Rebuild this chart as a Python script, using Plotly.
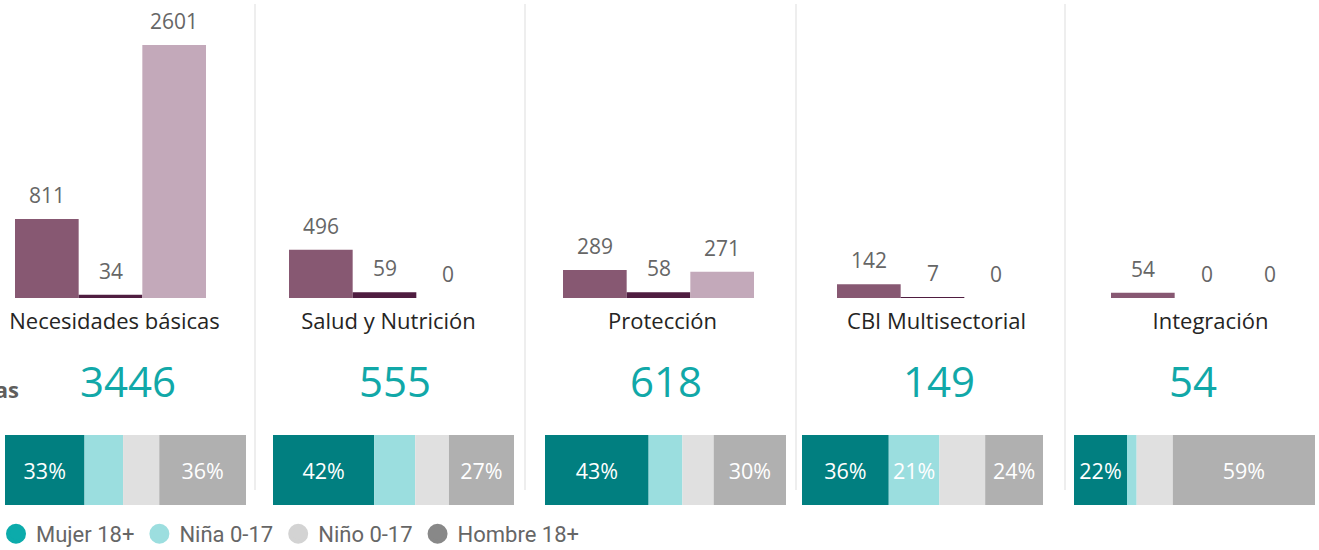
import plotly.graph_objects as go

# ---------------- data ----------------
categorias = ["Necesidades básicas", "Salud y Nutrición", "Protección", "CBI Multisectorial", "Integración"]
serie_a = [811, 496, 289, 142, 54]
serie_b = [34, 59, 58, 7, 0]
serie_c = [2601, 0, 271, 0, 0]

grupos = ["Mujer 18+", "Niña 0-17", "Niño 0-17", "Hombre 18+"]
pct_mujer = [33, 42, 43, 36, 22]
pct_nina = [16, 17, 14, 21, 4]
pct_nino = [15, 14, 13, 19, 15]
pct_hombre = [36, 27, 30, 24, 59]

# ---------------- styles ----------------
W, H = 1319, 550
FONT = "Open Sans, Noto Sans, sans-serif"
bar_colors = ["#875872", "#4f1d40", "#c3a9ba"]
seg_colors = ["#017f80", "#9bdedf", "#e0e0e0", "#b0b0b0"]
leg_colors = ["#0cabab", "#9cdedf", "#d3d3d3", "#888888"]
TEAL = "#11a8a8"
bargap = 1 - 191 / 274

def px_x(p):
    return p / W

def px_y(p):
    return 1 - p / H

fig = go.Figure()

# grouped vertical bars
series = [serie_a, serie_b, serie_c]
for j, vals in enumerate(series):
    fig.add_trace(go.Bar(
        x=categorias, y=vals, name=f"Serie {j+1}",
        marker=dict(color=bar_colors[j], line=dict(width=0)),
        showlegend=False, hoverinfo="x+y",
    ))

annotations = []
wbar = (1 - bargap) / 3
for j, vals in enumerate(series):
    for i, v in enumerate(vals):
        annotations.append(dict(
            x=i + (j - 1) * wbar, y=v, xref="x", yref="y",
            text=str(v), showarrow=False, yanchor="middle", yshift=24,
            font=dict(family=FONT, size=21, color="#666666"),
        ))

# 100% stacked horizontal bars (one small subplot per category)
pcts = [pct_mujer, pct_nina, pct_nino, pct_hombre]
panel_x = [(5, 246), (273, 514), (545, 786), (802, 1043), (1074, 1315)]
for i in range(len(categorias)):
    k = i + 2
    base = 0
    for g in range(len(grupos)):
        v = pcts[g][i]
        fig.add_trace(go.Bar(
            x=[v], y=[0], base=[base], orientation="h", width=1, offset=-0.5,
            xaxis=f"x{k}", yaxis=f"y{k}", name=grupos[g],
            marker=dict(color=seg_colors[g], line=dict(width=0)),
            text=[f"{v}%" if v >= 20 else ""], textposition="inside",
            insidetextanchor="middle", constraintext="none",
            textfont=dict(family=FONT, size=21.5, color="white"),
            showlegend=False, hovertemplate=f"{grupos[g]}: {v}%<extra></extra>",
        ))
        base += v
    fig.layout[f"xaxis{k}"] = dict(domain=[px_x(panel_x[i][0]), px_x(panel_x[i][1])],
                                   range=[0, 100], visible=False, anchor=f"y{k}", fixedrange=True)
    fig.layout[f"yaxis{k}"] = dict(domain=[px_y(505), px_y(435)], range=[-0.5, 0.5],
                                   visible=False, anchor=f"x{k}", fixedrange=True)

# legend entries
for g in range(len(grupos)):
    fig.add_trace(go.Scatter(
        x=[None], y=[None], mode="markers", name=grupos[g],
        marker=dict(size=16, color=leg_colors[g], line=dict(width=4, color=leg_colors[g])),
        showlegend=True,
    ))

# totals
totales = [a + b + c for a, b, c in zip(serie_a, serie_b, serie_c)]
total_x = [127.5, 395, 665.5, 939, 1192.5]
for i, t in enumerate(totales):
    annotations.append(dict(
        x=px_x(total_x[i]), y=px_y(380), xref="paper", yref="paper",
        text=str(t), showarrow=False, xanchor="center", yanchor="middle",
        font=dict(family=FONT, size=42, color=TEAL),
    ))

# cropped side label
annotations.append(dict(
    x=px_x(21), y=px_y(389), xref="paper", yref="paper", text="<b>Personas</b>",
    showarrow=False, xanchor="right", yanchor="middle",
    font=dict(family=FONT, size=22, color="#605e5c"),
))

# separators
shapes = []
for sx in [255, 525, 796, 1065]:
    shapes.append(dict(type="line", xref="paper", yref="paper",
                       x0=px_x(sx), x1=px_x(sx), y0=px_y(4), y1=px_y(490),
                       line=dict(color="#e8e8e8", width=1.5)))

ymax = 2601 * 298 / 253
fig.update_layout(
    width=W, height=H, autosize=False,
    margin=dict(l=0, r=0, t=0, b=0, autoexpand=False),
    paper_bgcolor="white", plot_bgcolor="white",
    barmode="group", bargap=bargap, bargroupgap=0,
    xaxis=dict(domain=[0, 1], range=[-110.5 / 274, (W - 110.5) / 274], showgrid=False,
               zeroline=False, showline=False, ticks="", fixedrange=True,
               tickfont=dict(family=FONT, size=22, color="#252423"),
               ticklabelshift=4, ticklabelstandoff=8),
    yaxis=dict(domain=[px_y(298), 1], range=[0, ymax], visible=False, fixedrange=True),
    annotations=annotations, shapes=shapes,
    showlegend=True,
    legend=dict(orientation="h", x=px_x(-4), xanchor="left", y=px_y(534), yanchor="middle",
                itemsizing="trace",
                font=dict(family="Roboto, sans-serif", size=22, color="#666666"),
                bgcolor="rgba(0,0,0,0)", itemclick=False, itemdoubleclick=False),
    font=dict(family=FONT),
)

fig.write_html("out.html", config={"displayModeBar": False},
               post_script="document.body.style.margin='0';")
